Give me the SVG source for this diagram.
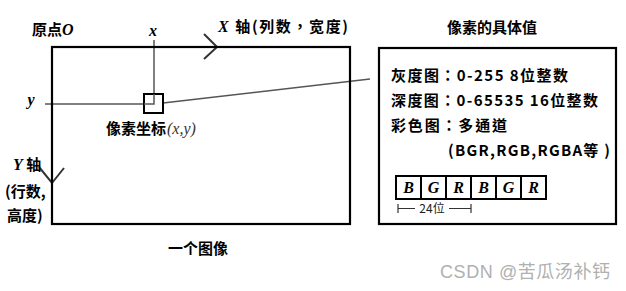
<svg xmlns="http://www.w3.org/2000/svg" width="626" height="291" viewBox="0 0 626 291">
<style>
.cn{font-family:"Noto Sans CJK SC","Noto Sans",sans-serif;font-weight:bold;font-size:15px;fill:#000}
.tc{font-family:"Noto Sans CJK TC","Noto Sans CJK SC",sans-serif}
.it{font-family:"Liberation Serif","DejaVu Serif",serif;font-style:italic;font-weight:bold;font-size:16px;fill:#000}
.itn{font-family:"Liberation Serif","DejaVu Serif",serif;font-style:italic;font-weight:normal;font-size:16px;fill:#333}
.frame{fill:none;stroke:#000;stroke-width:2.2}
.thin{fill:none;stroke:#555;stroke-width:1.5}
.chev{fill:none;stroke:#333;stroke-width:2}
.cell{fill:#fff;stroke:#000;stroke-width:2}
.wm{font-family:"Liberation Sans","Noto Sans CJK SC",sans-serif;font-size:18px;fill:#b0b0b0}
</style>
<rect width="626" height="291" fill="#fff"/>
<g id="connectors">
<line class="thin" x1="154" y1="40" x2="154" y2="104"/>
<line class="thin" x1="45" y1="104" x2="154" y2="104"/>
<line class="thin" x1="163" y1="103" x2="370" y2="79"/>
<polyline class="chev" points="204,34 217,47 204,59"/>
<polyline class="chev" points="39,167 52,183 64,168"/>
</g>
<g id="image">
<rect class="frame" x="52" y="47" width="298" height="177"/>
<text class="cn" x="32" y="35" font-size="16">原点<tspan class="it">O</tspan></text>
<text class="it" x="153" y="36" text-anchor="middle">x</text>
<text class="cn tc" x="218" y="32" font-size="16" textLength="130" lengthAdjust="spacing"><tspan class="it">X</tspan> 轴(列数，宽度)</text>
<text class="it" x="31" y="105" text-anchor="middle">y</text>
<text class="cn" x="13" y="170"><tspan class="it">Y</tspan> 轴</text>
<text class="cn" x="5" y="197">(行数,</text>
<text class="cn" x="7" y="221">高度)</text>
<text class="cn" x="198" y="254" text-anchor="middle" font-size="16">一个图像</text>
</g>
<g id="pixel">
<rect fill="#fff" stroke="#000" stroke-width="2" x="144" y="94" width="19" height="19"/>
<path d="M154,94 V104 H144" class="thin"/>
<text class="cn" x="106" y="134" font-size="16">像素坐标<tspan class="itn" dx="1">(x,y)</tspan></text>
</g>
<g id="values">
<text class="cn" x="492" y="33" text-anchor="middle" font-size="16">像素的具体值</text>
<rect class="frame" x="379" y="48" width="237" height="176"/>
<text class="cn tc" x="391" y="81" font-size="16" textLength="177" lengthAdjust="spacing">灰度图：0-255 8位整数</text>
<text class="cn tc" x="391" y="106" font-size="16" textLength="207" lengthAdjust="spacing">深度图：0-65535 16位整数</text>
<text class="cn tc" x="391" y="131" font-size="16" textLength="116" lengthAdjust="spacing">彩色图：多通道</text>
<text class="cn" x="448" y="156" font-size="16" textLength="162" lengthAdjust="spacing">(BGR,RGB,RGBA等 )</text>
</g>
<g id="channels">
<rect class="cell" x="396" y="176" width="25" height="23"/>
<rect class="cell" x="421" y="176" width="25" height="23"/>
<rect class="cell" x="446" y="176" width="25" height="23"/>
<rect class="cell" x="471" y="176" width="25" height="23"/>
<rect class="cell" x="496" y="176" width="25" height="23"/>
<rect class="cell" x="521" y="176" width="25" height="23"/>
<text class="it" y="193" text-anchor="middle"><tspan x="408.5">B</tspan><tspan x="433.5">G</tspan><tspan x="458.5">R</tspan><tspan x="483.5">B</tspan><tspan x="508.5">G</tspan><tspan x="533.5">R</tspan></text>
<path d="M398,204 V213 M398,208.5 H415 M449,208.5 H471 M471,204 V213" fill="none" stroke="#333" stroke-width="1.2"/>
<text x="432" y="213" text-anchor="middle" font-family="Noto Sans CJK SC,sans-serif" font-size="12" fill="#222">24位</text>
</g>
<text class="wm" x="440" y="278" textLength="170" lengthAdjust="spacing">CSDN @苦瓜汤补钙</text>
</svg>
